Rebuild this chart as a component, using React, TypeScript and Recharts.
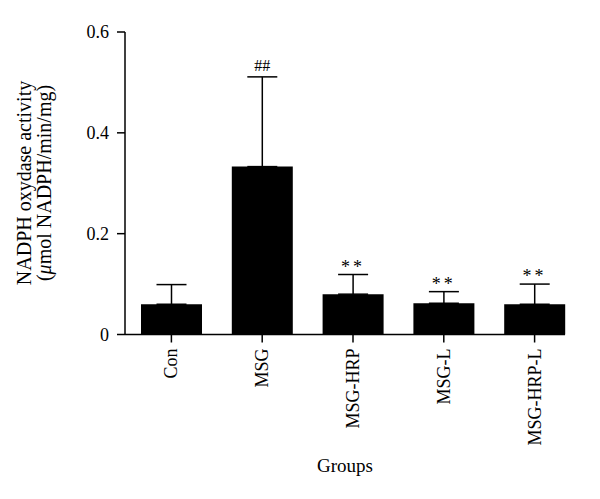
import {
  Bar,
  ComposedChart,
  ErrorBar,
  LabelList,
  Line,
  XAxis,
  YAxis,
} from "recharts";

const groups = ["Con", "MSG", "MSG-HRP", "MSG-L", "MSG-HRP-L"];
const means = [0.06, 0.333, 0.08, 0.062, 0.06];
const sdUpper = [0.039, 0.178, 0.039, 0.023, 0.04];
const marks = ["", "##", "**", "**", "**"];
const yTicks = [0, 0.2, 0.4, 0.6];

const FONT = '"Liberation Serif", "DejaVu Serif", serif';

const chartData = groups.map((g, i) => ({
  group: g,
  mean: means[i],
  err: [0, sdUpper[i]],
  top: means[i] + sdUpper[i],
  mark: marks[i],
}));

const GroupTick = (props: any) => {
  const { x, y, payload } = props;
  return (
    <text
      x={x}
      y={y}
      dy={6}
      transform={`rotate(-90, ${x}, ${y})`}
      textAnchor="end"
      fontFamily={FONT}
      fontSize={18}
      fill="#000"
    >
      {payload.value}
    </text>
  );
};

const MarkLabel = (props: any) => {
  const { x, y, value } = props;
  if (!value) return null;
  const isStar = value === "**";
  return (
    <text
      x={x}
      y={y - (isStar ? 2 : 6)}
      textAnchor="middle"
      fontFamily={FONT}
      fontSize={isStar ? 18 : 16}
      letterSpacing={isStar ? 3 : 0}
      fill="#000"
    >
      {value}
    </text>
  );
};

const YTitle = () => (
  <g fontFamily={FONT} fontSize={20} fill="#000">
    <text x={31} y={183} transform="rotate(-90, 31, 183)" textAnchor="middle">
      NADPH oxydase activity
    </text>
    <text x={51} y={183} transform="rotate(-90, 51, 183)" textAnchor="middle">
      (<tspan fontStyle="italic">μ</tspan>mol NADPH/min/mg)
    </text>
  </g>
);

export default function App() {
  return (
    <div style={{ position: "absolute", left: 0, top: 0, background: "#fff" }}>
      <ComposedChart
        width={600}
        height={499}
        data={chartData}
        margin={{ top: 32, right: 35, bottom: 24.5, left: 0 }}
      >
        <XAxis
          dataKey="group"
          padding={{ left: 1, right: -15 }}
          tick={<GroupTick />}
          tickSize={8}
          tickMargin={6}
          interval={0}
          stroke="#000"
          strokeWidth={1.5}
          height={140}
          label={{
            value: "Groups",
            position: "insideBottom",
            offset: 3,
            fontFamily: FONT,
            fontSize: 19,
            fill: "#000",
          }}
        />
        <YAxis
          domain={[0, 0.6]}
          ticks={yTicks}
          width={125}
          tickSize={8}
          tickMargin={8}
          stroke="#000"
          strokeWidth={1.5}
          tick={{ fontFamily: FONT, fontSize: 18, fill: "#000" }}
          tickFormatter={(v: number) => (v === 0 ? "0" : v.toFixed(1))}
          label={{ content: () => <YTitle /> }}
        />
        <Bar dataKey="mean" fill="#000" barSize={61} isAnimationActive={false}>
          <ErrorBar
            dataKey="err"
            direction="y"
            width={15}
            stroke="#000"
            strokeWidth={1.5}
            isAnimationActive={false}
          />
        </Bar>
        <Line
          dataKey="top"
          stroke="none"
          dot={false}
          activeDot={false}
          isAnimationActive={false}
        >
          <LabelList dataKey="mark" content={<MarkLabel />} />
        </Line>
      </ComposedChart>
    </div>
  );
}
